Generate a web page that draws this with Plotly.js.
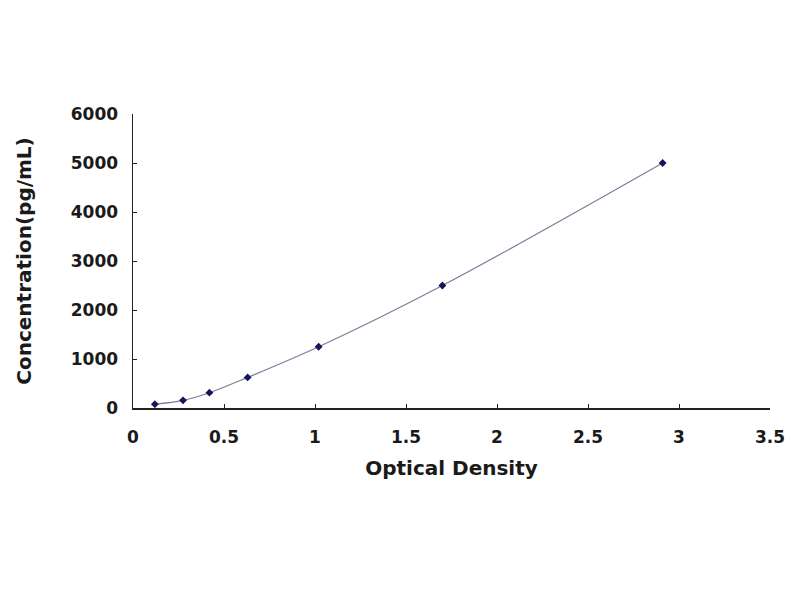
<!DOCTYPE html>
<html>
<head>
<meta charset="utf-8">
<script src="https://cdn.plot.ly/plotly-3.0.1.min.js"></script>
<style>html,body{margin:0;padding:0;background:#fff;}#chart{width:800px;height:600px;}</style>
</head>
<body>
<div id="chart"></div>
<script>
const opticalDensity = [0.12, 0.275, 0.42, 0.63, 1.02, 1.70, 2.91];
const concentration = [78, 156, 312, 625, 1250, 2500, 5000];
const xTicks = [0, 0.5, 1, 1.5, 2, 2.5, 3, 3.5];
const yTicks = [0, 1000, 2000, 3000, 4000, 5000, 6000];

const trace = {
  x: opticalDensity,
  y: concentration,
  mode: 'lines+markers',
  type: 'scatter',
  line: {shape: 'spline', color: '#7a7f98', width: 1.2},
  marker: {symbol: 'diamond', size: 6, color: '#14145a'},
  showlegend: false
};

const fam = 'DejaVu Sans, Liberation Sans, Arial, sans-serif';
const tickFont = {family: fam, size: 17, color: '#1a1a1a', weight: 'bold'};

const layout = {
  width: 800, height: 600,
  paper_bgcolor: '#fff', plot_bgcolor: '#fff',
  margin: {l: 133, r: 30, t: 114, b: 192},
  xaxis: {
    range: [0, 3.5], tickvals: xTicks, ticktext: xTicks.map(String),
    showgrid: false, zeroline: false, showline: true, linecolor: '#222', linewidth: 1.5,
    ticks: 'inside', ticklen: 4, tickcolor: '#222',
    tickfont: tickFont, ticklabelstandoff: 13,
    title: {text: '<b>Optical Density</b>', font: {family: fam, size: 20, color: '#1a1a1a'}, standoff: 15}
  },
  yaxis: {
    range: [0, 6000], tickvals: yTicks, ticktext: yTicks.map(String),
    showgrid: false, zeroline: false, showline: true, linecolor: '#222', linewidth: 1.5,
    ticks: 'inside', ticklen: 4, tickcolor: '#222',
    tickfont: tickFont, ticklabelstandoff: 10,
    title: {text: '<b>Concentration(pg/mL)</b>', font: {family: fam, size: 20, color: '#1a1a1a'}, standoff: 34}
  }
};

Plotly.newPlot('chart', [trace], layout, {staticPlot: true, displayModeBar: false});
</script>
</body>
</html>
